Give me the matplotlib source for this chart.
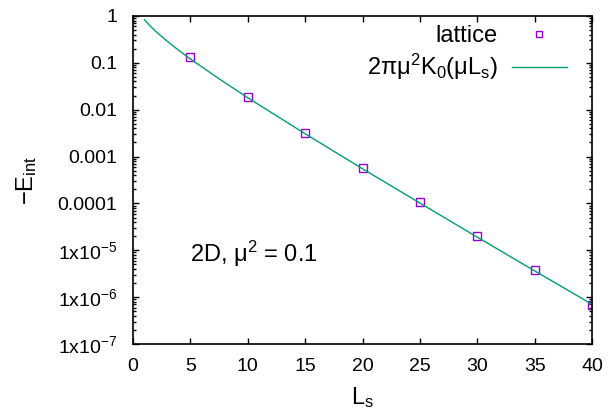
import matplotlib
matplotlib.use("Agg")
import matplotlib.pyplot as plt
from matplotlib.ticker import FixedLocator, LogLocator, NullFormatter

plt.rcParams['font.family'] = ['Liberation Sans', 'DejaVu Sans']
plt.rcParams['mathtext.fontset'] = 'custom'
plt.rcParams['mathtext.rm'] = 'Liberation Sans'
plt.rcParams['mathtext.it'] = 'Liberation Sans'

# lattice data
L_lat = [5, 10, 15, 20, 25, 30, 35, 40]
E_lat = [0.132, 0.0186, 0.00313, 0.000575, 0.000107, 2.01e-5, 3.8e-6, 6.9e-7]

# samples of the 2 pi mu^2 K0(mu L) curve
L_fit = [1, 1.5, 2, 3, 4, 5, 7.5, 10, 15, 20, 25, 30, 35, 40]
E_fit = [0.83, 0.608, 0.465, 0.286, 0.184, 0.121, 0.0457, 0.018, 0.00307,
         0.000549, 0.000102, 1.91e-5, 3.64e-6, 7.04e-7]

y_ticks = [1, 0.1, 0.01, 0.001, 0.0001, 1e-5, 1e-6, 1e-7]
y_labels = ["1", "0.1", "0.01", "0.001", "0.0001",
            r"1x10$^{\mathregular{-5}}$", r"1x10$^{\mathregular{-6}}$",
            r"1x10$^{\mathregular{-7}}$"]

fig = plt.figure(figsize=(6.15, 4.09), dpi=100)
ax = fig.add_axes([0.2163, 0.1589, 0.7463, 0.8020])

ax.plot(L_lat, E_lat, linestyle='none', marker='s', ms=5.5, mfc='none',
        mec='#9400d3', mew=1.0, label='lattice')
ax.plot(L_fit, E_fit, color='#009e73', lw=1.0,
        label=r'2$\mathregular{\pi\mu^2K_0(\mu L_s)}$')

ax.set_yscale('log')
ax.set_xlim(0, 40)
ax.set_ylim(1e-7, 1)
ax.set_xticks(range(0, 41, 5))
ax.yaxis.set_major_locator(FixedLocator(y_ticks))
ax.set_yticklabels(y_labels)
ax.yaxis.set_minor_locator(LogLocator(base=10, subs=range(2, 10), numticks=20))
ax.yaxis.set_minor_formatter(NullFormatter())

ax.tick_params(which='both', direction='in', top=True, right=True,
               labelsize=14, width=1.0)
ax.tick_params(which='major', length=4)
ax.tick_params(which='minor', length=2.2)
ax.tick_params(axis='x', which='major', pad=10)
ax.tick_params(axis='y', which='major', pad=11.5)
for s in ax.spines.values():
    s.set_linewidth(1.2)

ax.set_xlabel(r'L$_\mathregular{s}$', fontsize=17)
ax.set_ylabel(r'$-$E$_\mathregular{int}$', fontsize=17)
ax.xaxis.set_label_coords(0.5, -0.125)
ax.yaxis.set_label_coords(-0.205, 0.5)

ax.text(5.0, 8.3e-6, r'2D, $\mathregular{\mu^2}$ = 0.1', fontsize=17,
        ha='left', va='center')

ax.legend(loc='upper right', markerfirst=False, frameon=False, fontsize=17,
          handlelength=2.33, handletextpad=0.6, labelspacing=0.22,
          borderpad=0, borderaxespad=0, markerscale=0.9,
          bbox_to_anchor=(0.9455, 0.973))

fig.savefig('out.png', dpi=100)
